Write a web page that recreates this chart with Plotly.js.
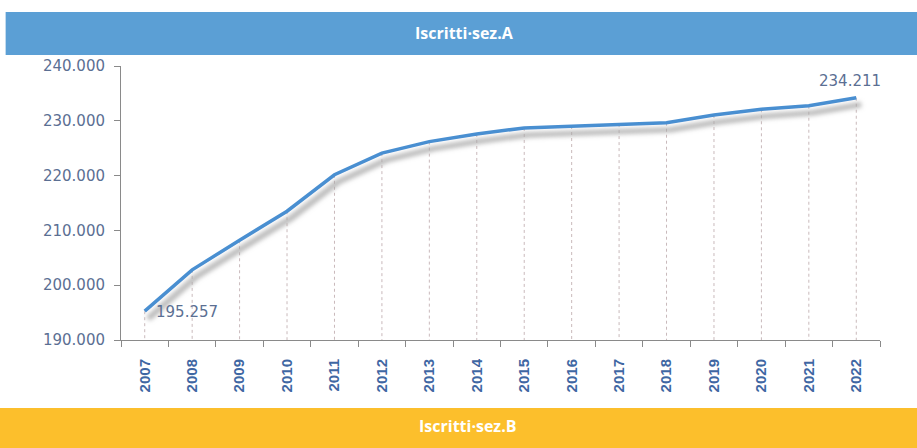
<!DOCTYPE html>
<html>
<head>
<meta charset="utf-8">
<script src="https://cdn.plot.ly/plotly-3.0.1.min.js"></script>
<style>html,body{margin:0;padding:0;background:#fff;}#chart{width:917px;height:448px;}</style>
</head>
<body>
<div id="chart"></div>
<script>
// ---- data ----
const years = ['2007','2008','2009','2010','2011','2012','2013','2014','2015','2016','2017','2018','2019','2020','2021','2022'];
const iscritti = [195257, 202800, 208200, 213500, 220150, 224100, 226200, 227600, 228700, 229050, 229400, 229650, 231050, 232100, 232750, 234211];
const titleA = 'Iscritti·sez.A';
const titleB = 'Iscritti·sez.B';
const yTicks = [190000, 200000, 210000, 220000, 230000, 240000];

function fmt(v){ return String(v).replace(/\B(?=(\d{3})+(?!\d))/g, '.'); }

// drop lines from each point to the axis
const dropX = [], dropY = [];
years.forEach((y, i) => { dropX.push(y, y, null); dropY.push(iscritti[i], yTicks[0], null); });

const last = iscritti.length - 1;
const traces = [
  {x: dropX, y: dropY, mode: 'lines', type: 'scatter', hoverinfo: 'skip',
   line: {color: '#c9b9bb', width: 1, dash: '3px,3px'}},
  {x: years, y: iscritti, mode: 'lines', type: 'scatter',
   line: {color: '#4a8fd1', width: 3.5}}
];

const labelFont = {family: 'DejaVu Sans', size: 15, color: '#5b6f93'};

const layout = {
  width: 917, height: 448,
  margin: {l: 121, r: 37, t: 66, b: 108},
  paper_bgcolor: '#ffffff', plot_bgcolor: '#ffffff',
  showlegend: false,
  xaxis: {
    type: 'category', range: [-0.5, 15.5], tickson: 'boundaries',
    showgrid: false, zeroline: false, showline: true, linecolor: '#8a8a8a', linewidth: 1,
    ticks: 'outside', ticklen: 6, tickcolor: '#8a8a8a', tickangle: -90, ticklabelstandoff: 12,
    tickfont: {family: 'Liberation Sans', size: 15, color: '#3f67a3', weight: 'bold'}
  },
  yaxis: {
    range: [190000, 240000], tickvals: yTicks, ticktext: yTicks.map(fmt),
    showgrid: false, zeroline: false, showline: true, linecolor: '#8a8a8a', linewidth: 1,
    ticks: 'outside', ticklen: 6, tickcolor: '#8a8a8a', ticklabelstandoff: 6,
    tickfont: {family: 'DejaVu Sans', size: 15, color: '#5b6f93'}
  },
  shapes: [
    {type: 'rect', xref: 'paper', yref: 'paper', x0: -0.152, x1: 1.05, y0: 1.04, y1: 1.197,
     fillcolor: '#5b9fd5', line: {width: 0}, layer: 'below'},
    {type: 'rect', xref: 'paper', yref: 'paper', x0: -0.2, x1: 1.05, y0: -0.41, y1: -0.248,
     fillcolor: '#fcbf2c', line: {width: 0}, layer: 'below'}
  ],
  annotations: [
    {text: titleA, xref: 'paper', yref: 'paper', x: 0.453, y: 1.12, yanchor: 'middle', showarrow: false,
     font: {family: 'Open Sans', size: 16, color: '#ffffff', weight: 'bold'}},
    {text: titleB, xref: 'paper', yref: 'paper', x: 0.457, y: -0.314, yanchor: 'middle', showarrow: false,
     font: {family: 'Open Sans', size: 16, color: '#ffffff', weight: 'bold'}},
    {text: fmt(iscritti[0]), xref: 'x', yref: 'y', x: 0, y: iscritti[0], xanchor: 'left', yanchor: 'middle',
     xshift: 9, yshift: -1, showarrow: false, font: labelFont},
    {text: fmt(iscritti[last]), xref: 'x', yref: 'y', x: last, y: iscritti[last], xanchor: 'center', yanchor: 'middle',
     xshift: -6, yshift: 17, showarrow: false, font: labelFont}
  ]
};

Plotly.newPlot('chart', traces, layout, {displayModeBar: false, staticPlot: true}).then(function(){
  const svg = document.querySelector('#chart svg.main-svg');
  const ns = 'http://www.w3.org/2000/svg';
  let defs = svg.querySelector('defs');
  if (!defs) { defs = document.createElementNS(ns, 'defs'); svg.insertBefore(defs, svg.firstChild); }
  const f = document.createElementNS(ns, 'filter');
  f.setAttribute('id', 'lineShadow');
  f.setAttribute('filterUnits', 'userSpaceOnUse');
  f.setAttribute('x', '-200'); f.setAttribute('y', '-200');
  f.setAttribute('width', '2000'); f.setAttribute('height', '1000');
  f.innerHTML =
    '<feMorphology in="SourceAlpha" operator="dilate" radius="1.2" result="d"/>' +
    '<feGaussianBlur in="d" stdDeviation="2" result="b"/>' +
    '<feOffset in="b" dx="4" dy="7" result="o"/>' +
    '<feFlood flood-color="#a8a8a8" flood-opacity="0.75"/>' +
    '<feComposite in2="o" operator="in" result="s"/>' +
    '<feMerge><feMergeNode in="s"/><feMergeNode in="SourceGraphic"/></feMerge>';
  defs.appendChild(f);
  const tr = document.querySelectorAll('#chart .scatterlayer .trace');
  if (tr[1]) { const p = tr[1].querySelector('path.js-line'); if (p) p.setAttribute('filter', 'url(#lineShadow)'); }
});
</script>
</body>
</html>
